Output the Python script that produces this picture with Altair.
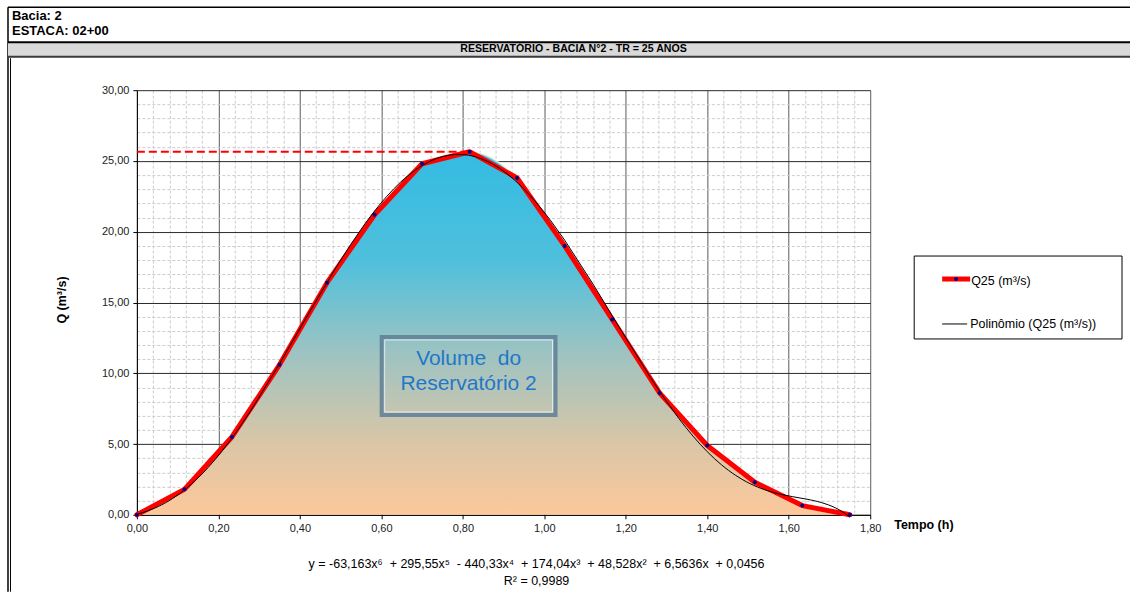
import altair as alt
import pandas as pd

# ---------------- data ----------------
t_h = [0.0, 0.1167, 0.2333, 0.35, 0.4667, 0.5833, 0.70, 0.8167,
       0.9333, 1.05, 1.1667, 1.2833, 1.40, 1.5167, 1.6333, 1.75]
q25 = [0.0, 1.8, 5.5, 10.6, 16.4, 21.2, 24.8, 25.65,
       23.8, 19.0, 13.8, 8.6, 4.9, 2.3, 0.65, 0.0]

x_ticks = [round(i * 0.04, 2) for i in range(46)]   # minor grid every 0.04 h
y_ticks = list(range(0, 31))                         # minor grid every 1 m3/s

NB = "\u00a0"
header_1 = "Bacia: 2"
header_2 = "ESTACA: 02+00"
chart_title = "RESERVATÓRIO - BACIA N°2 - TR = 25 ANOS"
y_title = "Q (m³/s)"
x_title = "Tempo (h)"
legend_1 = "Q25 (m³/s)"
legend_2 = "Polinômio (Q25 (m³/s))"
equation = ("y = -63,163x⁶" + NB + " + 295,55x⁵" + NB + " - 440,33x⁴" + NB +
            " + 174,04x³" + NB + " + 48,528x²" + NB + " + 6,5636x" + NB + " + 0,0456")
r2_text = "R² = 0,9989"
box_text = ["Volume" + NB + " do", "Reservatório 2"]

FONT = "Liberation Sans"

df = pd.DataFrame({"t": t_h, "q": q25})
peak_q = max(q25)
peak_t = t_h[q25.index(peak_q)]
peak_df = pd.DataFrame({"t": [0.0, peak_t], "q": [peak_q, peak_q]})

# ---------------- scales & axes ----------------
x_major = "abs(datum.value*5 - round(datum.value*5)) < 0.001"
y_major = "datum.value % 5 === 0"

x_axis = alt.Axis(
    values=x_ticks, title=None, labelOverlap=False, labelFlush=False,
    labelExpr=f"{x_major} ? replace(format(datum.value, '.2f'), '.', ',') : ''",
    grid=True,
    gridColor={"condition": {"test": x_major, "value": "#5a5a5a"}, "value": "#cccccc"},
    gridDash={"condition": {"test": x_major, "value": []}, "value": [3, 2]},
    gridWidth=1,
    tickColor={"condition": {"test": x_major, "value": "#000000"}, "value": "transparent"},
    tickSize=4, labelPadding=4, domainColor="#000000", domainWidth=1,
    labelFont=FONT, labelFontSize=11, labelColor="#222222",
)
y_axis = alt.Axis(
    values=y_ticks, title=None, labelOverlap=False, labelFlush=False,
    labelExpr=f"{y_major} ? replace(format(datum.value, '.2f'), '.', ',') : ''",
    grid=True,
    gridColor={"condition": {"test": y_major, "value": "#2a2a2a"}, "value": "#cccccc"},
    gridDash={"condition": {"test": y_major, "value": []}, "value": [3, 2]},
    gridWidth=1,
    tickColor={"condition": {"test": y_major, "value": "#000000"}, "value": "transparent"},
    tickSize=4, labelPadding=4, domainColor="#000000", domainWidth=1,
    labelFont=FONT, labelFontSize=11, labelColor="#222222",
)

X = alt.X("t:Q", scale=alt.Scale(domain=[0, 1.8], nice=False, zero=False), axis=x_axis)
Y = alt.Y("q:Q", scale=alt.Scale(domain=[0, 30], nice=False), axis=y_axis)

gradient = alt.Gradient(
    gradient="linear",
    stops=[
        alt.GradientStop(color="#34bbe2", offset=0.0),
        alt.GradientStop(color="#4fc0dc", offset=0.3),
        alt.GradientStop(color="#9cc3c2", offset=0.55),
        alt.GradientStop(color="#d9c6a7", offset=0.8),
        alt.GradientStop(color="#fdc89b", offset=1.0),
    ],
    x1=1, x2=1, y1=0, y2=1,
)

area = alt.Chart(df).mark_area(color=gradient, interpolate="monotone").encode(x=X, y=Y)
area_edge = alt.Chart(df).mark_line(color="#fff6e0", strokeWidth=2, opacity=0.7,
                                    interpolate="monotone").encode(x=X, y=Y)
peak_line = alt.Chart(peak_df).mark_line(color="#ff0000", strokeWidth=2,
                                         strokeDash=[8, 4]).encode(x=X, y=Y)
red_line = alt.Chart(df).mark_line(color="#ff0000", strokeWidth=5,
                                   strokeJoin="round", strokeCap="round").encode(x=X, y=Y)
poly = alt.Chart(df).transform_regression(
    "t", "q", method="poly", order=6, extent=[0, 1.75]
).mark_line(color="#000000", strokeWidth=1).encode(x=X, y=Y)
pts = alt.Chart(df).mark_point(filled=True, color="#000080", size=16,
                               opacity=1).encode(x=X, y=Y)

# ---------------- decorations (plot origin at page x=137, y=90) ----------------
OX, OY = 137, 90
one = alt.Data(values=[{}])


def txt(s, x, y, size=11, weight="normal", align="left", color="#000000",
        angle=0, baseline="alphabetic"):
    return alt.Chart(one).mark_text(
        text=s, font=FONT, fontSize=size, fontWeight=weight, align=align,
        baseline=baseline, color=color, angle=angle,
    ).encode(x=alt.value(x - OX), y=alt.value(y - OY))


def rule(x1, y1, x2, y2, color="#000000", width=1):
    return alt.Chart(one).mark_rule(color=color, strokeWidth=width).encode(
        x=alt.value(x1 - OX), y=alt.value(y1 - OY),
        x2=alt.value(x2 - OX), y2=alt.value(y2 - OY))


def box(x1, y1, x2, y2, fill="transparent", stroke="#000000", width=1, opacity=1):
    return alt.Chart(one).mark_rect(fill=fill, stroke=stroke, strokeWidth=width,
                                    opacity=opacity).encode(
        x=alt.value(x1 - OX), y=alt.value(y1 - OY),
        x2=alt.value(x2 - OX), y2=alt.value(y2 - OY))


extent = alt.Chart(one).mark_rect(opacity=0).encode(
    x=alt.value(0 - OX), y=alt.value(0 - OY),
    x2=alt.value(1131 - OX), y2=alt.value(592 - OY))

deco = [
    extent,
    rule(8, 7, 1131, 7, "#000000", 1.5),
    rule(8, 7, 8, 592, "#000000", 1.5),
    box(8, 42, 1131, 57, fill="#d9d9d9", stroke="transparent", width=0),
    rule(8, 42, 1131, 42, "#000000", 2),
    rule(8, 56.5, 1131, 56.5, "#3a3a3a", 2),
    rule(10.5, 58, 10.5, 592, "#000000", 1),
    txt(header_1, 12, 20, size=13, weight="bold"),
    txt(header_2, 12, 35, size=13, weight="bold"),
    txt(chart_title, 574, 52, size=10.6, weight="bold", align="center"),
    txt(y_title, 62, 300, size=12.5, weight="bold", align="center",
        angle=270, baseline="middle"),
    txt(x_title, 895, 529, size=12.5, weight="bold"),
    txt(equation, 537, 568, size=12.5, align="center"),
    txt(r2_text, 537, 585, size=12.5, align="center"),
    # legend
    box(915, 256, 1123, 339, fill="#ffffff", stroke="#000000", width=1),
    rule(943, 279, 971, 279, "#ff0000", 5),
    alt.Chart(one).mark_point(filled=True, color="#000080", size=16, opacity=1).encode(
        x=alt.value(957 - OX), y=alt.value(279 - OY)),
    txt(legend_1, 972, 284.5, size=12.5),
    rule(943, 324, 968, 324, "#000000", 1),
    txt(legend_2, 971, 328.5, size=12.5),
    # text box
    box(382, 337, 556, 415, stroke="#5f7f96", width=4, opacity=0.85),
    box(385, 340, 553, 412, stroke="#dfe8ee", width=1),
    txt(box_text[0], 469, 365, size=21, align="center", color="#1f77c9"),
    txt(box_text[1], 469, 390, size=21, align="center", color="#1f77c9"),
]

chart = alt.layer(
    area, area_edge, peak_line, red_line, poly, pts, *deco
).properties(
    width=734, height=425, padding=0, background="#ffffff"
).configure_view(stroke=None)

chart.save("out.html", embed_options={"renderer": "svg", "actions": False})
